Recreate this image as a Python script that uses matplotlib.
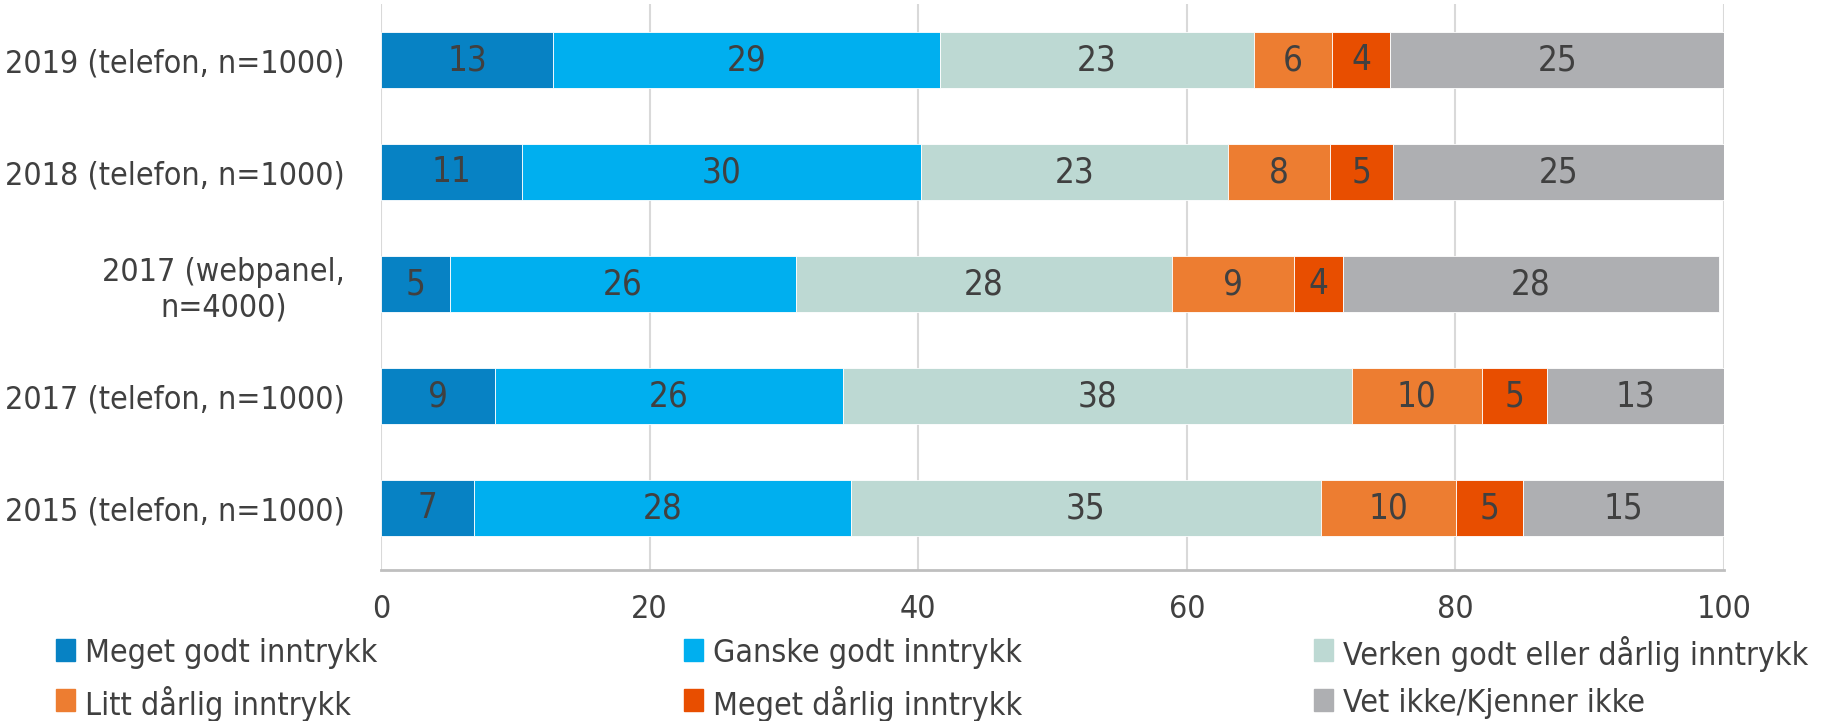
import numpy as np
import matplotlib
matplotlib.use('Agg')
import matplotlib.pyplot as plt
from matplotlib.patches import Rectangle

matplotlib.rcParams.update({
    'font.family': ['DejaVu Sans'],
    'font.stretch': 'condensed',
    'font.size': 23,
    'text.color': '#404040',
    'xtick.color': '#404040',
    'ytick.color': '#404040',
})

# ── data ─────────────────────────────────────────────────────────────────────
groups = ['2019 (telefon, n=1000)', '2018 (telefon, n=1000)',
          '2017 (webpanel,\nn=4000)', '2017 (telefon, n=1000)',
          '2015 (telefon, n=1000)']
series = ['Meget godt inntrykk', 'Ganske godt inntrykk',
          'Verken godt eller dårlig inntrykk', 'Litt dårlig inntrykk',
          'Meget dårlig inntrykk', 'Vet ikke/Kjenner ikke']

# segment lengths, one list per series, order = groups
meget_godt   = [12.8, 10.5, 5.1, 8.5, 6.9]
ganske_godt  = [28.84, 29.7, 25.8, 25.9, 28.1]
verken       = [23.34, 22.83, 27.98, 37.9, 34.98]
litt_darlig  = [5.80, 7.61, 9.07, 9.64, 10.06]
meget_darlig = [4.38, 4.74, 3.71, 4.91, 5.0]
vet_ikke     = [24.84, 24.62, 27.94, 13.15, 14.96]

# printed labels
lab_meget_godt   = [13, 11, 5, 9, 7]
lab_ganske_godt  = [29, 30, 26, 26, 28]
lab_verken       = [23, 23, 28, 38, 35]
lab_litt_darlig  = [6, 8, 9, 10, 10]
lab_meget_darlig = [4, 5, 4, 5, 5]
lab_vet_ikke     = [25, 25, 28, 13, 15]

xticks = [0, 20, 40, 60, 80, 100]

colors = ['#0782C4', '#00AFEF', '#BDD9D3', '#ED7D31', '#E84E00', '#AEAFB2']

values = [meget_godt, ganske_godt, verken, litt_darlig, meget_darlig, vet_ikke]
labels = [lab_meget_godt, lab_ganske_godt, lab_verken, lab_litt_darlig,
          lab_meget_darlig, lab_vet_ikke]

# ── plot ─────────────────────────────────────────────────────────────────────
W, H = 1831, 721
fig = plt.figure(figsize=(W / 100, H / 100), dpi=100)
ax = fig.add_axes([0.2081, 0.2094, 0.7335, 0.785])

y = np.arange(len(groups))
left = np.zeros(len(groups))
for vals, labs, col in zip(values, labels, colors):
    vals = np.array(vals)
    ax.barh(y, vals, left=left, height=0.5, color=col,
            edgecolor='white', linewidth=0.6, zorder=3)
    for yi, l, v, lab in zip(y, left, vals, labs):
        ax.text(l + v / 2, yi, str(lab), ha='center', va='center',
                fontsize=25, color='#404040', zorder=4)
    left += vals

ax.set_xlim(0, 100)
ax.set_ylim(len(groups) - 0.45, -0.5)
ax.set_xticks(xticks)
ax.set_yticks(y)
ax.set_yticklabels(groups)
for t in ax.get_yticklabels():
    t.set_multialignment('center')

ax.grid(axis='x', color='#D9D9D9', linewidth=1.5, zorder=0)
for s in ['top', 'right', 'left']:
    ax.spines[s].set_visible(False)
ax.spines['bottom'].set_color('#BFBFBF')
ax.spines['bottom'].set_linewidth(2)
ax.tick_params(axis='both', length=0, labelsize=23)
ax.tick_params(axis='x', pad=17)
ax.tick_params(axis='y', pad=26)

# legend: 3 columns x 2 rows, filled row-wise (drawn by hand so rows line up)
col_px = [56, 684, 1314]
row_px = [650, 700]
for i, name in enumerate(series):
    cx = col_px[i % 3]
    cy = row_px[i // 3]
    fig.add_artist(Rectangle((cx / W, (H - cy - 11) / H), 19 / W, 22 / H,
                             transform=fig.transFigure, color=colors[i]))
    fig.text((cx + 29) / W, (H - cy) / H, name, ha='left',
             va='center_baseline', fontsize=23)

fig.savefig('out.png', dpi=100)
